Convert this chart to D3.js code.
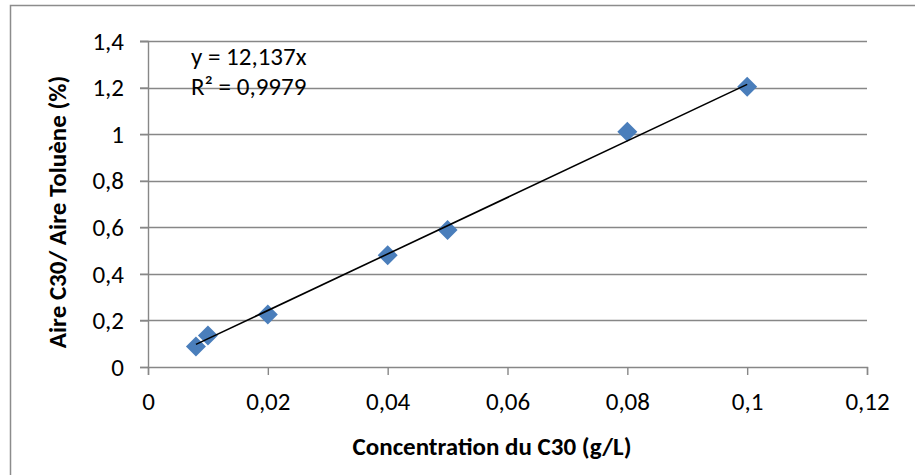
<!DOCTYPE html>
<html>
<head>
<meta charset="utf-8">
<script src="https://cdn.jsdelivr.net/npm/d3@7/dist/d3.min.js"></script>
<style>
  html, body { margin: 0; padding: 0; background: #fff; }
  svg { display: block; }
  svg text { font-family: Calibri, Carlito, sans-serif; fill: #000; }
</style>
</head>
<body>
<svg id="chart" width="915" height="475"></svg>
<script>
// ---- data ----
const concentrations = [0.008, 0.01, 0.02, 0.04, 0.05, 0.08, 0.1];
const ratios = [0.088, 0.135, 0.225, 0.48, 0.588, 1.01, 1.203];
const slope = 12.137;
const xTicks = [0, 0.02, 0.04, 0.06, 0.08, 0.1, 0.12];
const yTicks = [0, 0.2, 0.4, 0.6, 0.8, 1, 1.2, 1.4];
const xTitle = "Concentration du C30 (g/L)";
const yTitle = "Aire C30/ Aire Toluène (%)";
const equationLines = ["y = 12,137x", "R² = 0,9979"];

const svg = d3.select("#chart");
const W = 915, H = 475;
const plot = { left: 148, right: 867, top: 41, bottom: 367 };
const FONT = "Calibri, Carlito, sans-serif";
const FS = "25px";

const x = d3.scaleLinear().domain([0, 0.12]).range([plot.left, plot.right]);
const y = d3.scaleLinear().domain([0, 1.4]).range([plot.bottom, plot.top]);
const fmt = v => String(+v.toFixed(4)).replace(".", ",");

// outer border
svg.append("rect")
  .attr("x", 10.5).attr("y", 5.5)
  .attr("width", W + 10).attr("height", H + 10)
  .attr("fill", "none").attr("stroke", "#8c8c8c").attr("stroke-width", 1.5);

// horizontal gridlines
svg.append("g").selectAll("line").data(yTicks.filter(d => d > 0)).join("line")
  .attr("x1", plot.left - 8).attr("x2", plot.right)
  .attr("y1", d => Math.round(y(d)) + 0.5).attr("y2", d => Math.round(y(d)) + 0.5)
  .attr("stroke", "#878787").attr("stroke-width", 1.4);

// axes
const yAxis = svg.append("g")
  .attr("transform", `translate(${plot.left},0)`)
  .call(d3.axisLeft(y).tickValues(yTicks).tickFormat(fmt).tickSize(8).tickPadding(16));
const xAxis = svg.append("g")
  .attr("transform", `translate(0,${plot.bottom})`)
  .call(d3.axisBottom(x).tickValues(xTicks).tickFormat(fmt).tickSize(8).tickPadding(18));

[yAxis, xAxis].forEach(a => {
  a.attr("font-size", null).attr("font-family", null);
  a.select(".domain").attr("stroke", "#878787").attr("stroke-width", 1.4);
  a.selectAll(".tick line").attr("stroke", "#878787").attr("stroke-width", 1.4);
  a.selectAll("text").style("font-size", FS).style("font-family", FONT).attr("fill", "#000");
});
yAxis.selectAll("text").attr("dy", "0.33em");
xAxis.selectAll("text").attr("dy", "0.66em");

// markers
svg.append("g").selectAll("path")
  .data(concentrations.map((c, i) => [c, ratios[i]]))
  .join("path")
  .attr("d", d3.symbol().type(d3.symbolSquare).size(200))
  .attr("transform", d => `translate(${x(d[0])},${y(d[1])}) rotate(45)`)
  .attr("fill", "#4a7ebb");

// trendline
const xMin = d3.min(concentrations), xMax = d3.max(concentrations);
svg.append("line")
  .attr("x1", x(xMin)).attr("y1", y(slope * xMin))
  .attr("x2", x(xMax)).attr("y2", y(slope * xMax))
  .attr("stroke", "#000").attr("stroke-width", 1.6);

// equation
equationLines.forEach((t, i) => {
  svg.append("text").attr("x", 191).attr("y", 65 + i * 30)
    .style("font-size", FS).style("font-family", FONT).text(t);
});

// axis titles
svg.append("text")
  .attr("x", 492).attr("y", 455)
  .attr("text-anchor", "middle")
  .style("font-size", FS).style("font-weight", "bold").style("font-family", FONT)
  .text(xTitle);
svg.append("text")
  .attr("transform", `translate(66,${(plot.top + plot.bottom) / 2 + 8}) rotate(-90)`)
  .attr("text-anchor", "middle")
  .style("font-size", FS).style("font-weight", "bold").style("font-family", FONT)
  .text(yTitle);
</script>
</body>
</html>
